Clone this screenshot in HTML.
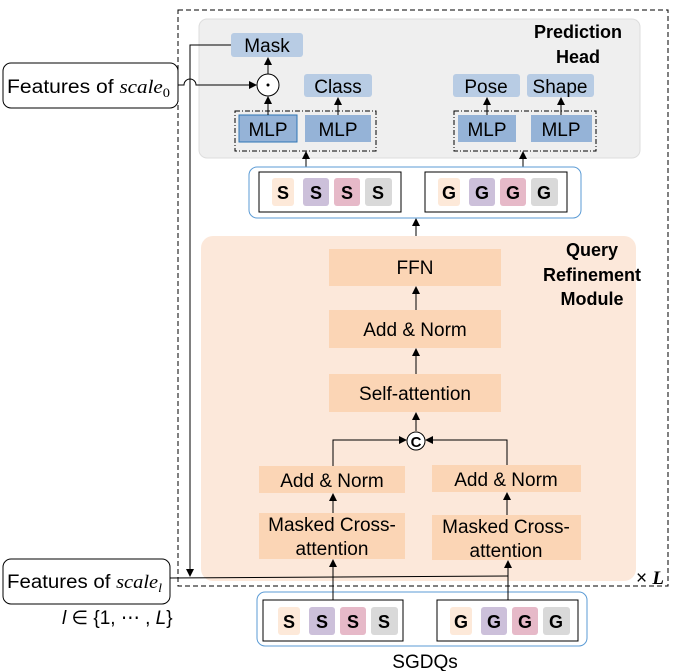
<!DOCTYPE html>
<html><head><style>body{margin:0;background:#fff}svg{display:block}text{font-family:"Liberation Sans",sans-serif}</style></head><body>
<svg width="673" height="671" viewBox="0 0 673 671" xmlns="http://www.w3.org/2000/svg">
<defs><marker id="a" markerWidth="8" markerHeight="8" refX="7" refY="4" orient="auto" markerUnits="userSpaceOnUse"><path d="M0,0 L8,4 L0,8 z" fill="#000"/></marker></defs>
<rect x="178" y="10" width="490" height="576" fill="none" stroke="#000" stroke-dasharray="5,3"/>
<rect x="199" y="19" width="441" height="139" rx="8" fill="#efefef" stroke="#ddd"/>
<text x="578" y="38" font-size="18" font-weight="bold" text-anchor="middle">Prediction</text>
<text x="578" y="63" font-size="18" font-weight="bold" text-anchor="middle">Head</text>
<rect x="231" y="33" width="72" height="24" rx="3" fill="#b8cce4"/><text x="267" y="52" font-size="19" text-anchor="middle">Mask</text>
<rect x="304" y="74" width="68" height="23" rx="3" fill="#b8cce4"/><text x="338" y="93" font-size="19" text-anchor="middle">Class</text>
<rect x="453" y="74" width="67" height="23" rx="3" fill="#b8cce4"/><text x="486" y="93" font-size="19" text-anchor="middle">Pose</text>
<rect x="527" y="74" width="67" height="23" rx="3" fill="#b8cce4"/><text x="560" y="93" font-size="19" text-anchor="middle">Shape</text>
<circle cx="268" cy="85" r="11" fill="#fff" stroke="#000"/><circle cx="268" cy="85" r="1.5" fill="#000"/>
<rect x="235" y="111" width="141" height="40" fill="none" stroke="#000" stroke-dasharray="5,2,1,2"/>
<rect x="239" y="115" width="58" height="27" fill="#95b3d7" stroke="#2e75b6"/><text x="268" y="136" font-size="19" text-anchor="middle">MLP</text>
<rect x="305" y="115" width="66" height="27" fill="#95b3d7"/><text x="338" y="136" font-size="19" text-anchor="middle">MLP</text>
<rect x="454" y="111" width="142" height="40" fill="none" stroke="#000" stroke-dasharray="5,2,1,2"/>
<rect x="458" y="115" width="58" height="27" fill="#95b3d7"/><text x="487" y="136" font-size="19" text-anchor="middle">MLP</text>
<rect x="531" y="115" width="61" height="27" fill="#95b3d7"/><text x="561" y="136" font-size="19" text-anchor="middle">MLP</text>
<g stroke="#000" fill="none" marker-end="url(#a)">
<line x1="268" y1="115" x2="268" y2="97"/><line x1="268" y1="74" x2="268" y2="58"/>
<line x1="338" y1="115" x2="338" y2="98"/><line x1="487" y1="115" x2="487" y2="98"/><line x1="561" y1="115" x2="561" y2="98"/>
<line x1="306" y1="167" x2="306" y2="152"/><line x1="523" y1="167" x2="523" y2="152"/>
<path d="M178,85 H184 A6,6 0 0 1 196,85 H256"/>
<path d="M231,45 H190 V576"/>
<line x1="416" y1="236" x2="416" y2="219"/>
</g>
<rect x="249" y="167" width="332" height="51" rx="8" fill="#fff" stroke="#5b9bd5"/>
<rect x="259" y="172" width="142" height="40" fill="#fff" stroke="#000"/><rect x="425" y="172" width="142" height="40" fill="#fff" stroke="#000"/>
<rect x="201" y="236" width="435" height="345" rx="12" fill="#fce8da"/>
<text x="592" y="256" font-size="18" font-weight="bold" text-anchor="middle">Query</text>
<text x="592" y="281" font-size="18" font-weight="bold" text-anchor="middle">Refinement</text>
<text x="592" y="305" font-size="18" font-weight="bold" text-anchor="middle">Module</text>
<rect x="329" y="249" width="172" height="37" fill="#fbd5b5"/><text x="415" y="274" font-size="19" text-anchor="middle">FFN</text>
<rect x="329" y="310" width="172" height="38" fill="#fbd5b5"/><text x="415" y="336" font-size="19" text-anchor="middle">Add &amp; Norm</text>
<rect x="329" y="374" width="172" height="38" fill="#fbd5b5"/><text x="415" y="400" font-size="19" text-anchor="middle">Self-attention</text>
<rect x="259" y="466" width="146" height="27" fill="#fbd5b5"/><text x="332" y="487" font-size="19" text-anchor="middle">Add &amp; Norm</text>
<rect x="432" y="465" width="149" height="27" fill="#fbd5b5"/><text x="506" y="486" font-size="19" text-anchor="middle">Add &amp; Norm</text>
<rect x="259" y="513" width="146" height="46" fill="#fbd5b5"/><text x="332" y="531" font-size="19" text-anchor="middle">Masked Cross-</text><text x="332" y="555" font-size="19" text-anchor="middle">attention</text>
<rect x="432" y="515" width="149" height="45" fill="#fbd5b5"/><text x="506" y="533" font-size="19" text-anchor="middle">Masked Cross-</text><text x="506" y="557" font-size="19" text-anchor="middle">attention</text>
<g stroke="#000" fill="none" marker-end="url(#a)">
<line x1="333" y1="513" x2="333" y2="494"/><line x1="507" y1="515" x2="507" y2="493"/>
<line x1="333" y1="600" x2="333" y2="560"/><line x1="508" y1="600" x2="508" y2="561"/>
<line x1="416" y1="310" x2="416" y2="287"/><line x1="416" y1="374" x2="416" y2="349"/><line x1="416" y1="431" x2="416" y2="413"/>
<path d="M333,466 V440 H406"/><path d="M507,465 V440 H426"/>
</g>
<circle cx="416" cy="441" r="9" fill="#fff" stroke="#000"/><text x="416" y="447" font-size="15" font-weight="bold" text-anchor="middle">C</text>
<line x1="170" y1="578" x2="508" y2="576" stroke="#000"/>
<text x="636" y="584" font-size="19">× <tspan font-family="Liberation Serif" font-weight="bold" font-style="italic">L</tspan></text>
<rect x="3" y="63" width="175" height="45" rx="8" fill="#fff" stroke="#000"/>
<text x="7" y="93" font-size="19" textLength="163" lengthAdjust="spacingAndGlyphs">Features of <tspan font-family="Liberation Serif" font-style="italic">scale</tspan><tspan font-family="Liberation Serif" font-size="13" dy="4">0</tspan></text>
<rect x="3" y="559" width="167" height="45" rx="8" fill="#fff" stroke="#000"/>
<text x="7" y="588" font-size="19" textLength="155" lengthAdjust="spacingAndGlyphs">Features of <tspan font-family="Liberation Serif" font-style="italic">scale</tspan><tspan font-family="Liberation Serif" font-style="italic" font-size="13" dy="4">l</tspan></text>
<text x="62" y="624" font-size="19" font-family="Liberation Serif"><tspan font-style="italic">l</tspan> ∈ {1, ⋯ , <tspan font-style="italic">L</tspan>}</text>
<rect x="257" y="592" width="330" height="54" rx="8" fill="#fff" stroke="#5b9bd5"/>
<rect x="263" y="600" width="140" height="41" fill="#fff" stroke="#000"/><rect x="437" y="600" width="141" height="41" fill="#fff" stroke="#000"/>
<line x1="333" y1="600" x2="333" y2="578" stroke="#000"/><line x1="508" y1="600" x2="508" y2="576" stroke="#000"/>
<text x="425" y="668" font-size="19" text-anchor="middle">SGDQs</text>
<g font-size="18" font-weight="bold" text-anchor="middle">
<rect x="272" y="178" width="22" height="28" rx="3" fill="#fde9d9"/><text x="283" y="199">S</text>
<rect x="303" y="178" width="26" height="28" rx="3" fill="#ccc0da"/><text x="316" y="199">S</text>
<rect x="334" y="178" width="26" height="28" rx="3" fill="#e6b9c8"/><text x="347" y="199">S</text>
<rect x="365" y="178" width="27" height="28" rx="3" fill="#d9d9d9"/><text x="378" y="199">S</text>
<rect x="438" y="178" width="22" height="28" rx="3" fill="#fde9d9"/><text x="449" y="199">G</text>
<rect x="469" y="178" width="26" height="28" rx="3" fill="#ccc0da"/><text x="482" y="199">G</text>
<rect x="500" y="178" width="26" height="28" rx="3" fill="#e6b9c8"/><text x="513" y="199">G</text>
<rect x="531" y="178" width="27" height="28" rx="3" fill="#d9d9d9"/><text x="544" y="199">G</text>
<rect x="278" y="607" width="22" height="28" rx="3" fill="#fde9d9"/><text x="289" y="628">S</text>
<rect x="309" y="607" width="26" height="28" rx="3" fill="#ccc0da"/><text x="322" y="628">S</text>
<rect x="340" y="607" width="26" height="28" rx="3" fill="#e6b9c8"/><text x="353" y="628">S</text>
<rect x="371" y="607" width="27" height="28" rx="3" fill="#d9d9d9"/><text x="384" y="628">S</text>
<rect x="450" y="607" width="22" height="28" rx="3" fill="#fde9d9"/><text x="461" y="628">G</text>
<rect x="481" y="607" width="26" height="28" rx="3" fill="#ccc0da"/><text x="494" y="628">G</text>
<rect x="512" y="607" width="26" height="28" rx="3" fill="#e6b9c8"/><text x="525" y="628">G</text>
<rect x="543" y="607" width="27" height="28" rx="3" fill="#d9d9d9"/><text x="556" y="628">G</text>
</g>
</svg>
</body></html>
